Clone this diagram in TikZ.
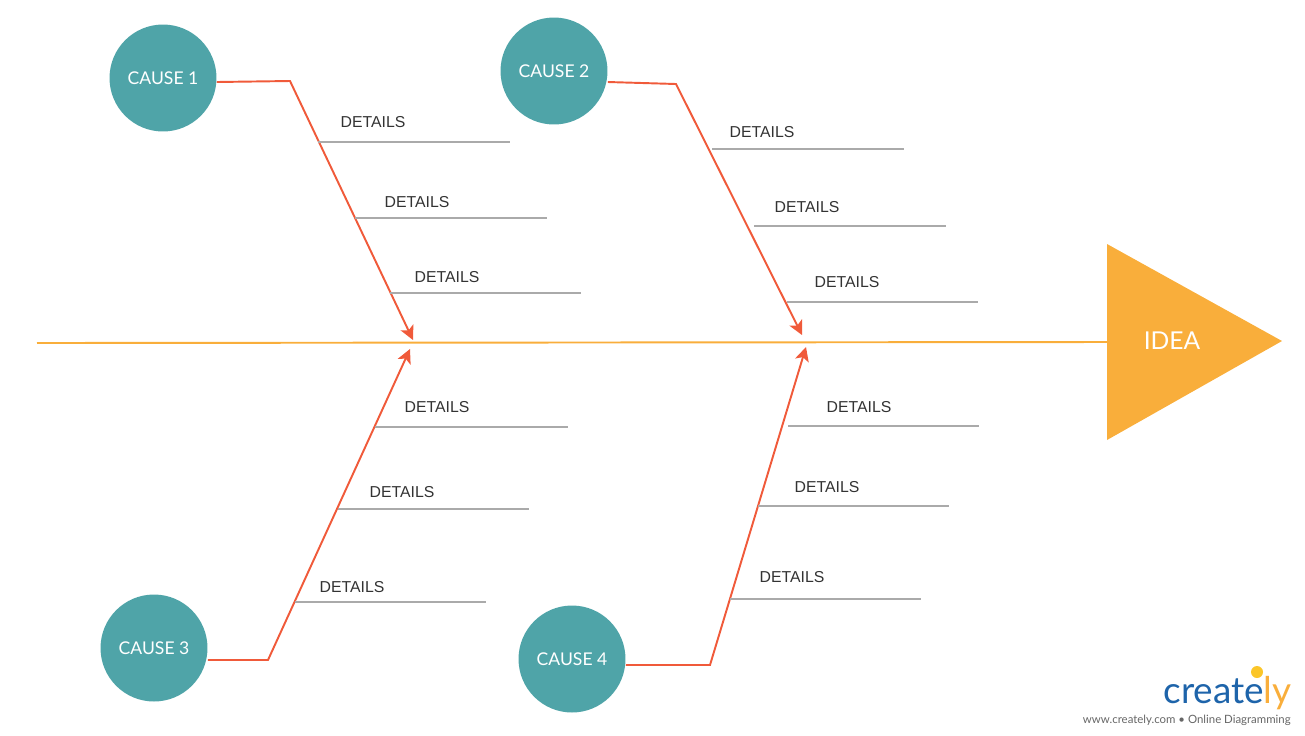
\documentclass[tikz,border=0pt]{standalone}
\usepackage{fontspec}
\setmainfont{Liberation Sans}
\newfontfamily\latofont{Lato}
\usetikzlibrary{arrows.meta,positioning}
\definecolor{teal}{HTML}{4FA4A8}
\definecolor{bone}{HTML}{F05A3A}
\definecolor{spine}{HTML}{F9AE3B}
\definecolor{detailgray}{HTML}{AAAAAA}
\tikzset{
  cause/.style={circle, fill=teal, minimum size=2.14cm, inner sep=0pt,
    text=white, font=\latofont\fontsize{10}{12}\selectfont},
  bonearrow/.style={draw=bone, line width=1.1pt, -{Stealth[length=8pt,width=8pt,inset=2pt]}},
  detail/.style={font=\fontsize{9}{11}\selectfont, text=black!80},
  detailline/.style={draw=detailgray, thick}
}
\begin{document}
\begin{tikzpicture}[x=0.02cm,y=-0.02cm]
          \useasboundingbox (0,0) rectangle (1305,735);
          % spine and head
          \coordinate (tail) at (37,343);
          \coordinate (head) at (1108,342);
          \draw[spine, line width=1.1pt] (tail) -- (head);
          \fill[spine] (1107,244) -- (1282,341) -- (1107,440) -- cycle;
          \node[text=white, font=\latofont\fontsize{14}{16}\selectfont] (idea) at (1172,341) {IDEA};

          % causes
          \node[cause] (c1) at (163,78) {CAUSE 1};
          \node[cause] (c2) at (554,71) {CAUSE 2};
          \node[cause] (c3) at (154,648) {CAUSE 3};
          \node[cause] (c4) at (572,659) {CAUSE 4};

          \coordinate (b1) at (290,81);  \coordinate (t1) at (413,340);
          \coordinate (b2) at (676,84);  \coordinate (t2) at (802,335);
          \coordinate (b3) at (268,660); \coordinate (t3) at (410,349);
          \coordinate (b4) at (710,665); \coordinate (t4) at (806,347);
          \draw[bonearrow] (c1.east |- 0,82) -- (b1) -- (t1);
          \draw[bonearrow] (c2.east |- 0,82) -- (b2) -- (t2);
          \draw[bonearrow] (c3.east |- 0,660) -- (b3) -- (t3);
          \draw[bonearrow] (c4.east |- 0,665) -- (b4) -- (t4);

          % details
          \foreach \tx/\ty/\la/\lb/\ly [count=\i] in {
            373/122/318/510/142, 417/202/355/547/218, 447/277/390/581/293,
            762/132/712/904/149, 807/207/754/946/226, 847/282/787/978/302,
            437/407/375/568/427, 402/492/338/529/509, 352/587/295/486/602,
            859/407/788/979/426, 827/487/758/949/506, 792/577/730/921/599} {
            \node[detail] (d\i) at (\tx,\ty) {DETAILS};
            \coordinate (dl\i) at (\la,\ly);
            \coordinate (dr\i) at (\lb,\ly);
            \draw[detailline] (dl\i) -- (dr\i);
          }

          % logo
          \node[font=\latofont\fontsize{21}{22}\selectfont, text={rgb,255:red,30;green,100;blue,170}, anchor=south east, inner sep=0pt] (logo) at (1292,710) {create\textcolor{spine}{ly}};
          \fill[spine!70!yellow] (1257,672) circle (6);
          \node[font=\latofont\fontsize{6.5}{7}\selectfont, text=black!60, anchor=south east, inner sep=0pt] (url) at (1291,726) {www.creately.com \textbullet{} Online Diagramming};
\end{tikzpicture}
\end{document}
